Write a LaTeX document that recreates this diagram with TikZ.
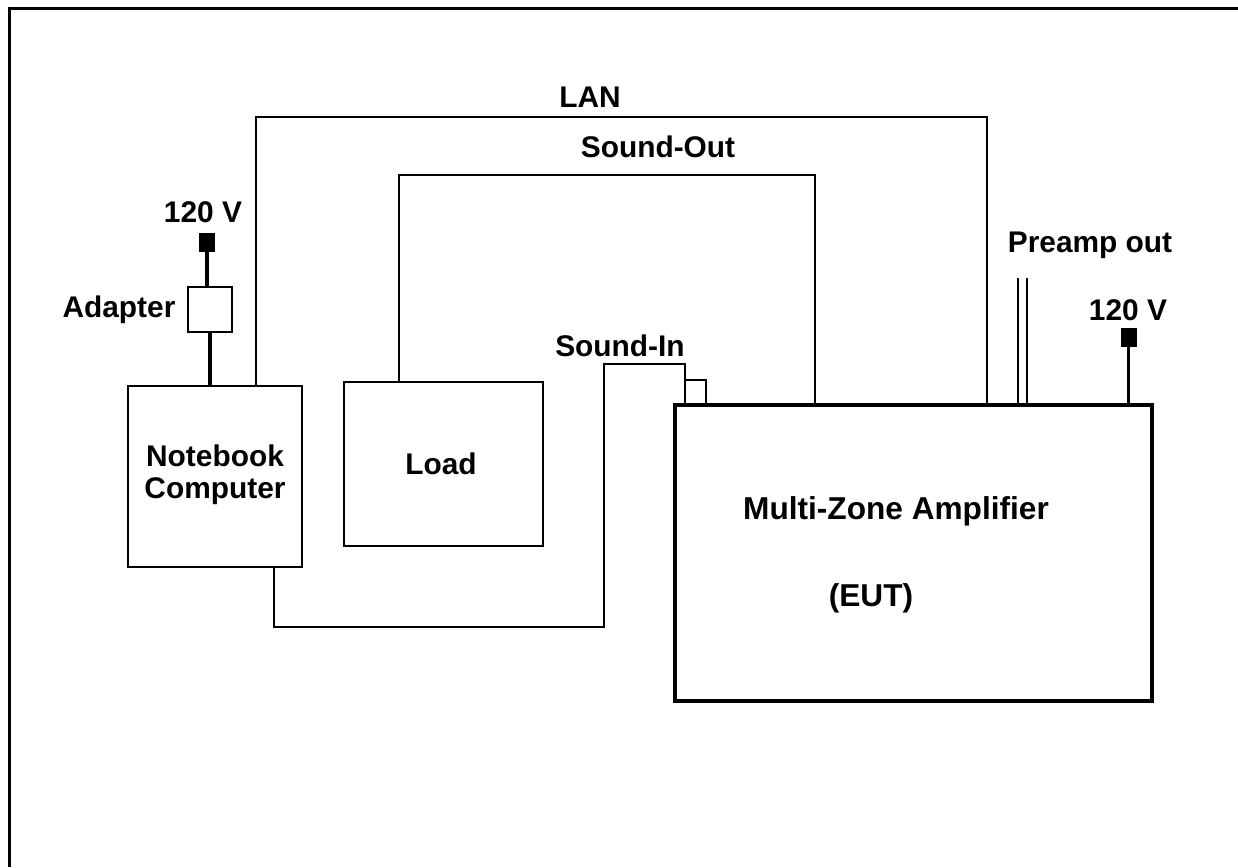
\documentclass[tikz,border=0pt]{standalone}
\usepackage{fontspec}
\setmainfont{Liberation Sans}
\begin{document}
\begin{tikzpicture}[x=0.02cm,y=-0.02cm,
  thin line/.style={line width=1.1pt},
  thick line/.style={line width=2pt},
  box/.style={draw,thin line,inner sep=0pt,outer sep=0pt,rectangle},
  plug/.style={fill=black,draw=none,inner sep=0pt,outer sep=0pt,minimum width=0.32cm,minimum height=0.38cm},
  lbl/.style={font=\fontsize{17}{19}\selectfont\bfseries,inner sep=0pt},
  biglbl/.style={font=\fontsize{18}{20}\selectfont\bfseries,inner sep=0pt}]
\useasboundingbox (0,0) rectangle (1238,867);
% frame
\draw[line width=1.8pt] (9.5,867) -- (9.5,8.5) -- (1238,8.5);
% boxes
\node[box,minimum width=3.48cm,minimum height=3.62cm] (nb) at (215,476.5) {};
\node[lbl,align=center] (nbt) at (215,475) {Notebook\\[-1pt]Computer};
\node[box,minimum width=0.88cm,minimum height=0.9cm] (adp) at (210,309.5) {};
\node[box,minimum width=3.98cm,minimum height=3.28cm] (load) at (443.5,464) {};
\node[lbl] (loadt) at (441,464) {Load};
\node[box,line width=2.6pt,minimum width=9.54cm,minimum height=5.92cm] (amp) at (913.5,553) {};
\node[biglbl] (ampt) at (896,511) {Multi-Zone Amplifier};
\node[biglbl] (eut) at (871,598) {(EUT)};
\node[box,minimum width=0.42cm,minimum height=0.5cm] (sq) at (695.5,392.5) {};
\node[plug] (p1) at (207,242.5) {};
\node[plug] (p2) at (1128.5,337.5) {};
% labels
\node[lbl] (l120a) at (203,212) {120 V};
\node[lbl] (ladp) at (119,310) {Adapter};
\node[lbl] (l120b) at (1128,310) {120 V};
\node[lbl] (lpre) at (1090,245) {Preamp out};
\node[lbl] (llan) at (590,97) {LAN};
\node[lbl] (lso) at (658,147) {Sound-Out};
\node[lbl] (lsi) at (620,346) {Sound-In};
% coordinates
\coordinate (lan1) at (256,117);
\coordinate (lan2) at (987,117);
\coordinate (so1) at (399,175);
\coordinate (so2) at (815,175);
\coordinate (si1) at (274,627);
\coordinate (si2) at (604,627);
\coordinate (si3) at (604,364);
\coordinate (si4) at (685,364);
\coordinate (pa1) at (1018,278);
\coordinate (pa2) at (1027,278);
% power connectors
\draw[thick line] (p1.south) -- (p1.south |- adp.north);
\draw[thick line] (adp.south) -- (adp.south |- nb.north);
\draw[thick line] (p2.south) -- (p2.south |- amp.north);
% cables
\draw[thin line] (lan1 |- nb.north) -- (lan1) -- (lan2) -- (lan2 |- amp.north);
\draw[thin line] (so1 |- load.north) -- (so1) -- (so2) -- (so2 |- amp.north);
\draw[thin line] (si1 |- nb.south) -- (si1) -- (si2) -- (si3) -- (si4) -- (si4 |- amp.north);
\draw[line width=0.9pt] (pa1) -- (pa1 |- amp.north);
\draw[line width=0.9pt] (pa2) -- (pa2 |- amp.north);
\end{tikzpicture}
\end{document}
